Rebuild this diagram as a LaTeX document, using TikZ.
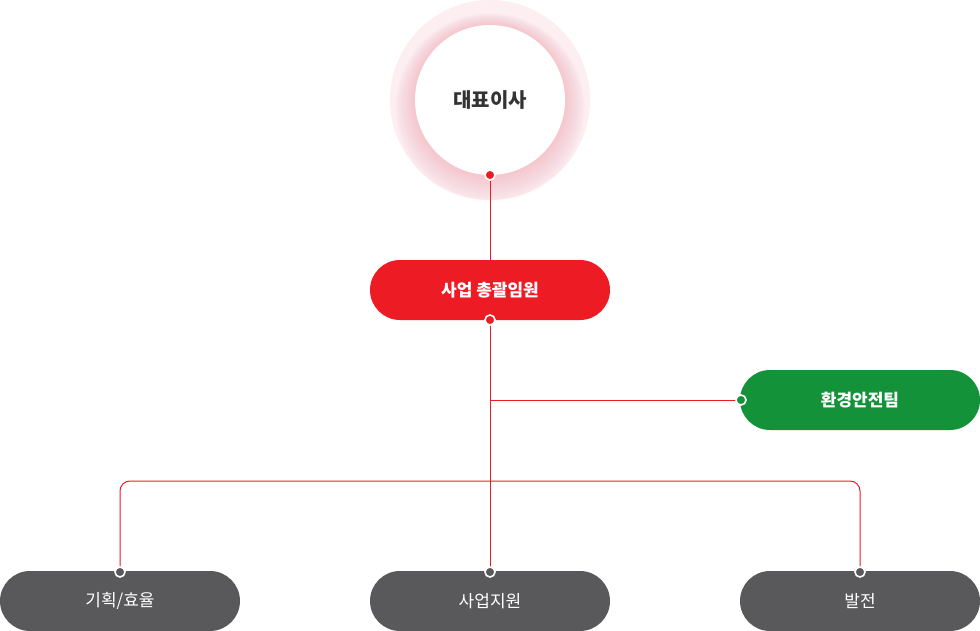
\documentclass[tikz,border=0pt]{standalone}
\usepackage{fontspec}
\usetikzlibrary{shapes.misc}
\newfontfamily\kr{Noto Sans CJK KR}
\definecolor{cred}{HTML}{ED1C24}
\definecolor{cgreen}{HTML}{13923A}
\definecolor{cgray}{HTML}{59595B}
\definecolor{ctext}{HTML}{333333}
\definecolor{cpink}{HTML}{FDEEF1}
\definecolor{cshadow}{HTML}{F590A2}
\begin{document}
\begin{tikzpicture}[x=1pt,y=-1pt,
  pill/.style={rounded rectangle,minimum width=240pt,minimum height=60pt,inner sep=0pt,text=white,font=\kr\fontsize{17}{17}\selectfont},
  boldpill/.style={pill,font=\kr\bfseries\fontsize{17}{17}\selectfont},
  dotmark/.style={circle,draw=white,line width=1.6pt,minimum size=10pt,inner sep=0pt},
  link/.style={draw=cred,line width=1pt}]
\useasboundingbox (0,0) rectangle (980,631);
% CEO circle
\fill[cpink] (490,100) circle (100);
\foreach \i in {0,...,18}{
  \fill[cshadow,opacity=0.022] (490,{100+0.45*\i}) circle ({75+1.1*\i});
}
\node[circle,fill=white,minimum size=150pt,inner sep=0pt,text=ctext,font=\kr\bfseries\fontsize{20}{20}\selectfont] (ceo) at (490,100) {대표이사};
% pills
\node[boldpill,fill=cred] (gm) at (490,290) {사업 총괄임원};
\node[boldpill,fill=cgreen] (env) at (860,400) {환경안전팀};
\node[pill,fill=cgray] (plan) at (120,601) {기획/효율};
\node[pill,fill=cgray] (sup) at (490,601) {사업지원};
\node[pill,fill=cgray] (dev) at (860,601) {발전};
% connector points
\coordinate (ceoB) at (490,175);
\coordinate (gmB) at (490,320);
\coordinate (envL) at (741,400);
\coordinate (branch) at (490,400);
\coordinate (planT) at (120,572);
\coordinate (supT) at (490,572);
\coordinate (devT) at (860,572);
\coordinate (railL) at (120,481);
\coordinate (railR) at (860,481);
% connectors
\path[link] (ceoB) -- (gm.north);
\path[link] (gmB) -- (supT);
\path[link] (branch) -- (envL);
\path[link,rounded corners=10pt] (planT) -- (railL) -- (railR) -- (devT);
% dots
\node[dotmark,fill=cred] (d1) at (ceoB) {};
\node[dotmark,fill=cred] (d2) at (gmB) {};
\node[dotmark,fill=cgreen] (d3) at (envL) {};
\node[dotmark,fill=cgray] (d4) at (planT) {};
\node[dotmark,fill=cgray] (d5) at (supT) {};
\node[dotmark,fill=cgray] (d6) at (devT) {};
\end{tikzpicture}
\end{document}
